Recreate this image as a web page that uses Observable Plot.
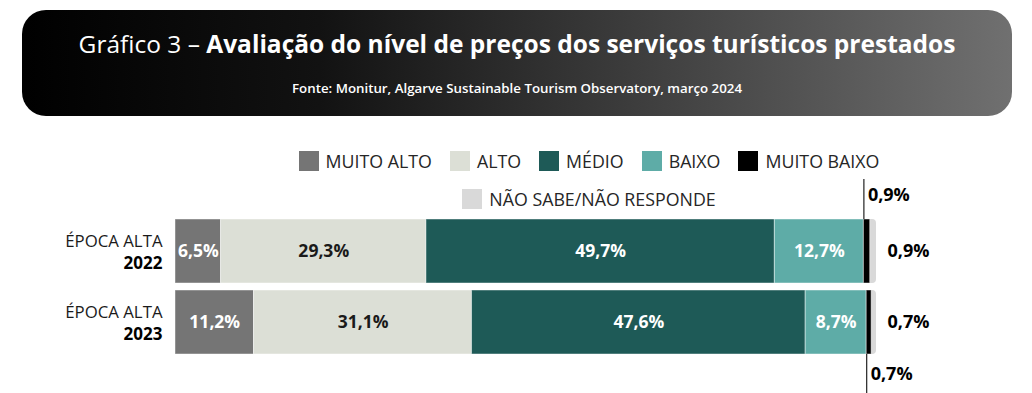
<!DOCTYPE html>
<html>
<head>
<meta charset="utf-8">
<script src="https://cdn.jsdelivr.net/npm/d3@7"></script>
<script src="https://cdn.jsdelivr.net/npm/@observablehq/plot@0.6"></script>
<style>
  html, body { margin: 0; padding: 0; background: #fff; }
  body { width: 1032px; height: 393px; position: relative; overflow: hidden; font-family: "Open Sans", sans-serif; }
  #header { position: absolute; left: 22px; top: 10px; width: 990px; height: 106px; border-radius: 24px;
    background: linear-gradient(to right, #000 0%, #121212 30%, #707070 100%); color: #fff; text-align: center; }
  #title { position: absolute; left: 0; right: 0; top: 18px; font-size: 24.5px; line-height: 32px; white-space: nowrap; }
  #title b { font-weight: 700; }
  #subtitle { position: absolute; left: 0; right: 0; top: 69px; font-size: 13.3px; line-height: 18px; font-weight: 600; white-space: nowrap; }
  .legrow { position: absolute; left: 189px; width: 800px; display: flex; justify-content: center; align-items: center; height: 22px; }
  .item { display: flex; align-items: center; margin: 0 9px; font-size: 17.8px; color: #262626; white-space: nowrap; }
  .sw { width: 20px; height: 20px; margin-right: 7px; }
  #chart { position: absolute; left: 0; top: 170px; }
</style>
</head>
<body>
<div id="header">
  <div id="title">Gráfico 3 – <b>Avaliação do nível de preços dos serviços turísticos prestados</b></div>
  <div id="subtitle">Fonte: Monitur, Algarve Sustainable Tourism Observatory, março 2024</div>
</div>
<div id="leg1" class="legrow" style="top:150px"></div>
<div id="leg2" class="legrow" style="top:188px"></div>
<div id="chart"></div>
<script>
const categories = ["MUITO ALTO", "ALTO", "MÉDIO", "BAIXO", "MUITO BAIXO", "NÃO SABE/NÃO RESPONDE"];
const colors = ["#757575", "#dcdfd6", "#1e5a57", "#5eaca7", "#000000", "#d9d9d9"];
const labelColors = ["#ffffff", "#1a1a1a", "#ffffff", "#ffffff", "#000000", "#000000"];
const years = ["2022", "2023"];
const rowLabel = "ÉPOCA ALTA";
const values2022 = [6.5, 29.3, 49.7, 12.7, 0.9, 0.9];
const values2023 = [11.2, 31.1, 47.6, 8.7, 0.7, 0.7];

const fmt = v => v.toFixed(1).replace(".", ",") + "%";

// legend
const leg1 = document.getElementById("leg1");
const leg2 = document.getElementById("leg2");
categories.forEach((c, i) => {
  const it = document.createElement("div");
  it.className = "item";
  it.innerHTML = `<span class="sw" style="background:${colors[i]}"></span><span>${c}</span>`;
  (i < 5 ? leg1 : leg2).appendChild(it);
});

// data
const rows = [];
[values2022, values2023].forEach((vals, yi) => {
  let cum = 0;
  vals.forEach((v, ci) => {
    rows.push({year: years[yi], cat: categories[ci], ci, v, x1: cum, x2: cum + v});
    cum += v;
  });
});
const inner = rows.filter(d => d.ci <= 3);
const solid = rows.filter(d => d.ci <= 4);
const black = rows.filter(d => d.ci === 4);
const ns = rows.filter(d => d.ci === 5);
const nsBg = ns.map(d => ({...d, x1: black.find(b => b.year === d.year).x1}));

const H = 223;
const plot = Plot.plot({
  width: 1032,
  height: H,
  marginLeft: 175,
  marginRight: 156,
  marginTop: 48,
  marginBottom: 39,
  x: {domain: [0, 100], axis: null},
  y: {domain: years, paddingInner: 0.1, paddingOuter: 0, axis: null},
  color: {domain: categories, range: colors},
  style: {fontFamily: "Open Sans, sans-serif", background: "transparent", overflow: "visible"},
  marks: [
    Plot.barX(nsBg, {x1: "x1", x2: "x2", y: "year", fill: colors[5], rx: 4}),
    Plot.barX(solid, {x1: "x1", x2: "x2", y: "year", fill: "cat", stroke: "#ffffff", strokeOpacity: 0.45, strokeWidth: 1}),
    Plot.text(inner, {x: d => (d.x1 + d.x2) / 2, y: "year", text: d => fmt(d.v), fill: d => labelColors[d.ci],
      fontSize: 17.5, fontWeight: 700}),
    Plot.text(ns, {x: 100, y: "year", dx: 11, text: d => fmt(d.v), textAnchor: "start", fill: "#000", fontSize: 18, fontWeight: 700}),
    // leader lines for MUITO BAIXO
    Plot.tickX(black.filter(d => d.year === years[0]), {x: "x1", y: "year", stroke: "#222", strokeWidth: 1.2, insetTop: -40, insetBottom: 64}),
    Plot.tickX(black.filter(d => d.year === years[1]), {x: "x1", y: "year", stroke: "#222", strokeWidth: 1.2, insetTop: 64, insetBottom: -40}),
    Plot.text(black.filter(d => d.year === years[0]), {x: "x1", y: "year", dx: 4, dy: -56, text: d => fmt(d.v), textAnchor: "start", fill: "#000", fontSize: 18, fontWeight: 700}),
    Plot.text(black.filter(d => d.year === years[1]), {x: "x1", y: "year", dx: 4, dy: 52, text: d => fmt(d.v), textAnchor: "start", fill: "#000", fontSize: 18, fontWeight: 700}),
    // y labels
    Plot.text(years, {x: 0, y: d => d, dx: -13, dy: -10, text: () => rowLabel, textAnchor: "end", fill: "#1a1a1a", fontSize: 16.8}),
    Plot.text(years, {x: 0, y: d => d, dx: -13, dy: 12, text: d => d, textAnchor: "end", fill: "#000", fontSize: 17, fontWeight: 700})
  ]
});
document.getElementById("chart").appendChild(plot);
</script>
</body>
</html>
